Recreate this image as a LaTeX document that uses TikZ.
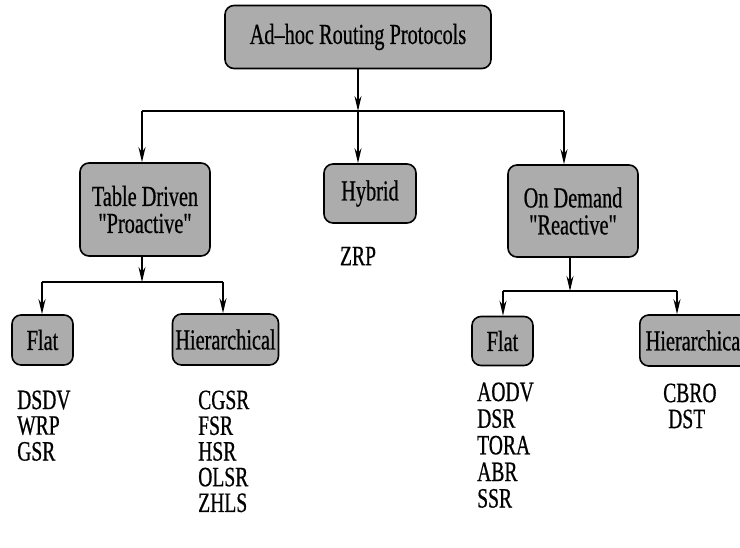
\documentclass[tikz,border=0pt]{standalone}
\usepackage{fontspec}
\setmainfont{Liberation Serif}
\newfontfamily\narrowfont[FakeStretch=0.7,FakeBold=0.6]{Liberation Serif}
\usetikzlibrary{arrows.meta}
\definecolor{boxgray}{RGB}{172,172,172}
\tikzset{
  box/.style={draw=black, line width=1.6pt, rounded corners=9pt, fill=boxgray,
    align=center, inner sep=0pt,
    font=\narrowfont\fontsize{29}{27}\selectfont},
  item/.style={inner sep=0pt, anchor=west,
    font=\narrowfont\fontsize{28}{26}\selectfont},
  link/.style={line width=1.5pt},
  arr/.style={line width=1.5pt, -{Stealth[length=15pt,width=7pt]}}
}
\begin{document}
\begin{tikzpicture}[x=1pt,y=-1pt]
  \useasboundingbox (0,0) rectangle (740,548);
  \clip (0,0) rectangle (740,548);

  % boxes
  \node[box, minimum width=266pt, minimum height=63pt] (top) at (358,37) {Ad–hoc Routing Protocols};
  \node[box, minimum width=130pt, minimum height=93pt] (td) at (145,209.5) {Table Driven\\"Proactive"};
  \node[box, minimum width=92pt, minimum height=59pt] (hy) at (370,193.5) {Hybrid};
  \node[box, minimum width=130pt, minimum height=92pt] (od) at (573,211) {On Demand\\"Reactive"};
  \node[box, minimum width=61pt, minimum height=50pt] (fl) at (42.5,340) {Flat};
  \node[box, minimum width=106pt, minimum height=51pt] (hl) at (225.5,339.5) {Hierarchical};
  \node[box, minimum width=61pt, minimum height=49pt] (fr) at (502.5,341) {Flat};
  \node[box, minimum width=112pt, minimum height=51pt, anchor=west] (hr) at (639,340.5) {Hierarchical};

  % bus coordinates
  \coordinate (busA) at (358,111);
  \coordinate (tdA) at (142,111);
  \coordinate (odA) at (564,111);
  \coordinate (tdB) at (142,282);
  \coordinate (flB) at (42,282);
  \coordinate (hlB) at (223,282);
  \coordinate (odB) at (570,291);
  \coordinate (frB) at (503,291);
  \coordinate (hrB) at (677,291);

  % first level
  \draw[arr] (top.south) -- (busA);
  \draw[link] (tdA) -- (odA);
  \draw[arr] (tdA) -- (tdA |- td.north);
  \draw[arr] (busA) -- (busA |- hy.north);
  \draw[arr] (odA) -- (odA |- od.north);

  % table driven branch
  \draw[arr] (tdB |- td.south) -- (tdB);
  \draw[link] (flB) -- (hlB);
  \draw[arr] (flB) -- (flB |- fl.north);
  \draw[arr] (hlB) -- (hlB |- hl.north);

  % on demand branch
  \draw[arr] (odB |- od.south) -- (odB);
  \draw[link] (frB) -- (hrB);
  \draw[arr] (frB) -- (frB |- fr.north);
  \draw[arr] (hrB) -- (hrB |- hr.north);

  % protocol lists
  \node[item, anchor=center] (zrp) at (358,256) {ZRP};
  \foreach \t [count=\i] in {DSDV,WRP,GSR}
    \node[item] (lf\i) at (17,{400+(\i-1)*25.7}) {\t};
  \foreach \t [count=\i] in {CGSR,FSR,HSR,OLSR,ZHLS}
    \node[item] (lh\i) at (198,{400+(\i-1)*25.7}) {\t};
  \foreach \t [count=\i] in {AODV,DSR,TORA,ABR,SSR}
    \node[item] (rf\i) at (477,{392+(\i-1)*26.6}) {\t};
  \node[item] (rh1) at (663,393) {CBRO};
  \node[item] (rh2) at (668,419) {DST};
\end{tikzpicture}
\end{document}
